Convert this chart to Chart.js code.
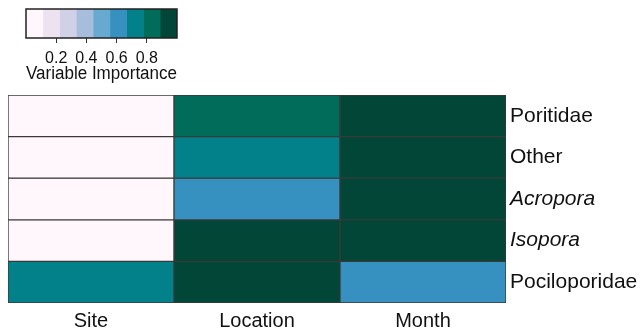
<!DOCTYPE html>
<html>
<head>
    <title>Variable Importance by Coral Group</title>
    <script src="https://cdn.jsdelivr.net/npm/chart.js"></script>
    <style>
        body {
            margin: 0;
            background: #ffffff;
        }

        #wrap {
            position: relative;
            width: 641px;
            height: 331px;
        }

        canvas {
            position: absolute;
            left: 0;
            top: 0;
        }
    </style>
</head>
<body>
<div id="wrap">
    <canvas id="heatmap" width="641" height="331"></canvas>
    <canvas id="scaleBar" width="200" height="90"></canvas>
</div>

<script>
    // predictors along the bottom, coral groups down the right side
    const predictors = ['Site', 'Location', 'Month'];
    const groups = ['Poritidae', 'Other', 'Acropora', 'Isopora', 'Pociloporidae'];
    const italicGroups = ['Acropora', 'Isopora'];

    // variable importance, one array per group (Site, Location, Month)
    const poritidae = [0.03, 0.84, 0.96];
    const other = [0.03, 0.72, 0.96];
    const acropora = [0.03, 0.61, 0.96];
    const isopora = [0.03, 0.95, 0.96];
    const pociloporidae = [0.72, 0.95, 0.61];
    const importance = [poritidae, other, acropora, isopora, pociloporidae];

    // colour bar
    const scaleTicks = [0.2, 0.4, 0.6, 0.8];
    const palette = ['#fff7fb', '#ece2f0', '#d0d1e6', '#a6bddb', '#67a9cf',
        '#3690c0', '#02818a', '#016c59', '#014636'];

    const FONT = "'Liberation Sans', Arial, sans-serif";
    Chart.defaults.font.family = FONT;
    Chart.defaults.color = '#111111';

    function colourFor(v) {
        const i = Math.min(palette.length - 1, Math.floor(v * palette.length));
        return palette[i];
    }

    // each group is one stacked band of unit height, coloured by importance
    const heatDatasets = groups.map((name, r) => ({
        label: name,
        data: predictors.map(() => 1),
        backgroundColor: importance[r].map(colourFor),
        borderColor: '#3a3a3a',
        borderWidth: 1,
        borderSkipped: false,
        categoryPercentage: 1.0,
        barPercentage: 1.0
    }));

    new Chart(document.getElementById('heatmap'), {
        type: 'bar',
        data: {labels: predictors, datasets: heatDatasets},
        options: {
            responsive: false,
            animation: false,
            devicePixelRatio: 1,
            layout: {padding: {left: 8, top: 95, right: 0, bottom: 0}},
            plugins: {legend: {display: false}, tooltip: {enabled: false}},
            scales: {
                x: {
                    stacked: true,
                    grid: {display: false, drawTicks: false},
                    border: {display: false},
                    ticks: {font: {size: 20}, padding: 6},
                    afterFit: scale => { scale.height = 28; }
                },
                y: {
                    stacked: true,
                    position: 'right',
                    reverse: true,
                    min: 0,
                    max: groups.length,
                    grid: {display: false, drawTicks: false},
                    border: {display: false},
                    afterBuildTicks: scale => {
                        scale.ticks = groups.map((g, i) => ({value: i + 0.5}));
                    },
                    afterFit: scale => { scale.width = 135; },
                    ticks: {
                        padding: 4,
                        callback: value => groups[Math.floor(value)],
                        font: ctx => {
                            const name = ctx.tick ? groups[Math.floor(ctx.tick.value)] : '';
                            return {size: 21, style: italicGroups.includes(name) ? 'italic' : 'normal'};
                        }
                    }
                }
            }
        }
    });

    // outline around the colour bar
    const outline = {
        id: 'outline',
        afterDatasetsDraw(chart) {
            const a = chart.chartArea;
            const ctx = chart.ctx;
            ctx.save();
            ctx.strokeStyle = '#222222';
            ctx.lineWidth = 1.5;
            ctx.strokeRect(a.left, a.top, a.right - a.left, a.bottom - a.top);
            ctx.restore();
        }
    };

    const binDatasets = palette.map((c, i) => ({
        data: [[i / palette.length, (i + 1) / palette.length]],
        backgroundColor: c,
        borderWidth: 0,
        grouped: false,
        categoryPercentage: 1.0,
        barPercentage: 1.0
    }));

    new Chart(document.getElementById('scaleBar'), {
        type: 'bar',
        data: {labels: [''], datasets: binDatasets},
        plugins: [outline],
        options: {
            indexAxis: 'y',
            responsive: false,
            animation: false,
            devicePixelRatio: 1,
            layout: {padding: {left: 26, top: 9, right: 23, bottom: 0}},
            plugins: {legend: {display: false}, tooltip: {enabled: false}},
            scales: {
                x: {
                    min: 0,
                    max: 1,
                    afterBuildTicks: scale => {
                        scale.ticks = scaleTicks.map(v => ({value: v}));
                    },
                    grid: {drawOnChartArea: false, drawTicks: true, tickLength: 5, color: '#333333'},
                    border: {display: false},
                    ticks: {font: {size: 16}, padding: 6},
                    title: {
                        display: true,
                        text: 'Variable Importance',
                        font: {size: 18},
                        padding: {top: 0, bottom: 5}
                    },
                    afterFit: scale => { scale.height = 52; }
                },
                y: {display: false}
            }
        }
    });
</script>
</body>
</html>
